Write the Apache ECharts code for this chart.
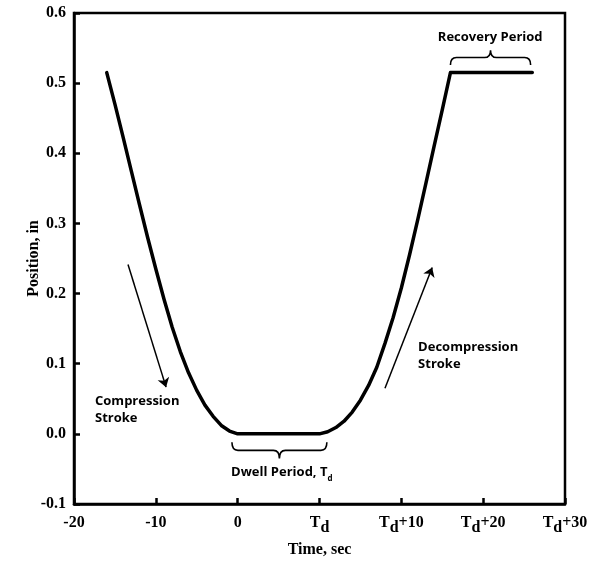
<!DOCTYPE html>
<html>
<head>
<meta charset="utf-8">
<script src="https://cdn.jsdelivr.net/npm/echarts@6/dist/echarts.min.js"></script>
<style>html,body{margin:0;padding:0;background:#fff}#chart{width:594px;height:563px}</style>
</head>
<body>
<div id="chart"></div>
<script>
// ---- data ----
const compressionTime = [-16,-15,-14,-13,-12,-11,-10,-9,-8,-7,-6,-5,-4,-3,-2,-1,0];
const compressionPos  = [0.515,0.470,0.423,0.375,0.327,0.280,0.235,0.192,0.152,0.117,0.087,0.062,0.041,0.025,0.012,0.004,0.000];
const dwellTime = [0,10];
const dwellPos  = [0,0];
const decompressionTime = [10,11,12,13,14,15,16,17,18,19,20,21,22,23,24,25,26];
const decompressionPos  = [0.000,0.003,0.009,0.018,0.031,0.048,0.069,0.095,0.129,0.166,0.208,0.255,0.305,0.357,0.410,0.462,0.515];
const recoveryTime = [26,36];
const recoveryPos  = [0.515,0.515];

const xTickValues = [-20,-10,0,10,20,30,40];
const xTickLabels = ['{t|-20}','{t|-10}','{t|0}','{t|T}{d|d}','{t|T}{d|d}{t|+10}','{t|T}{d|d}{t|+20}','{t|T}{d|d}{t|+30}'];

// annotation arrows: [x1,y1,x2,y2]
const arrows = [
  [-13.4,0.2415,-8.75,0.0666],
  [18.0,0.065,23.77,0.2373]
];
// braces: [xStart, xEnd, yEnds, yTip]
const braces = [
  [-0.7,10.9,-0.012,-0.035],
  [26.0,35.8,0.526,0.547]
];
// notes: x, y, text, align
const noteX = [30.86, -0.8, -17.43, 22.05];
const noteY = [0.562, -0.058, 0.031, 0.108];
const noteText = ['{a|Recovery Period}', '{a|Dwell Period, T}{s|d}', '{a|Compression}\n{a|Stroke}', '{a|Decompression}\n{a|Stroke}'];
const noteAlign = ['center','left','left','left'];

// ---- build ----
function pairs(xs, ys){ return xs.map((x,i)=>[x, ys[i]]); }
const curve = [].concat(
  pairs(compressionTime, compressionPos),
  pairs(dwellTime, dwellPos).slice(1),
  pairs(decompressionTime, decompressionPos).slice(1),
  pairs(recoveryTime, recoveryPos).slice(1)
);

const serif = '"Liberation Serif","Times New Roman",serif';
const sans = '"Open Sans","DejaVu Sans",sans-serif';
const chart = echarts.init(document.getElementById('chart'));

chart.setOption({
  animation: false,
  backgroundColor: '#fff',
  grid: { left: 74, right: 29, top: 13, bottom: 58, show: true, borderColor: '#000', borderWidth: 2.5, backgroundColor: 'transparent', z: 0 },
  xAxis: {
    type: 'value', min: -20, max: 40, interval: 10, z: 10,
    name: 'Time, sec', nameLocation: 'middle', nameGap: 38, nameMoveOverlap: false,
    nameTextStyle: { fontFamily: serif, fontWeight: 'bold', fontSize: 16, color: '#000' },
    axisLine: { show: true, onZero: false, lineStyle: { color: '#000', width: 2.5 } },
    axisTick: { show: true, inside: true, length: 6, lineStyle: { color: '#000', width: 2.5 } },
    splitLine: { show: false },
    axisLabel: {
      margin: 11, color: '#000', fontFamily: serif, fontWeight: 'bold', fontSize: 16,
      formatter: function(v){ const i = xTickValues.indexOf(v); return i >= 0 ? xTickLabels[i] : ''; },
      rich: {
        t: { fontFamily: serif, fontWeight: 'bold', fontSize: 16, color: '#000', verticalAlign: 'top' },
        d: { fontFamily: serif, fontWeight: 'bold', fontSize: 16, color: '#000', lineHeight: 26 }
      }
    }
  },
  yAxis: {
    type: 'value', min: -0.1, max: 0.6, interval: 0.1, z: 10,
    name: 'Position, in', nameLocation: 'middle', nameGap: 32, nameRotate: 90, nameMoveOverlap: false,
    nameTextStyle: { fontFamily: serif, fontWeight: 'bold', fontSize: 16, color: '#000' },
    axisLine: { show: true, onZero: false, lineStyle: { color: '#000', width: 2.5 } },
    axisTick: { show: true, inside: true, length: 6, lineStyle: { color: '#000', width: 2.5 } },
    splitLine: { show: false },
    axisLabel: { margin: 8, color: '#000', fontFamily: serif, fontWeight: 'bold', fontSize: 16,
      formatter: v => v.toFixed(1) }
  },
  series: [
    {
      type: 'line', data: curve, showSymbol: false, symbol: 'none',
      lineStyle: { color: '#000', width: 3.5, join: 'round', cap: 'round' },
      markLine: {
        silent: true, symbol: ['none','arrow'], symbolSize: 9, label: { show: false },
        lineStyle: { color: '#000', width: 1.5, type: 'solid' },
        data: arrows.map(a => [{ coord: [a[0], a[1]] }, { coord: [a[2], a[3]] }])
      },
      z: 3
    },
    {
      type: 'custom', silent: true,
      data: braces,
      renderItem: function(params, api){
        const x1 = api.value(0), x2 = api.value(1), yE = api.value(2), yT = api.value(3);
        const p1 = api.coord([x1, yE]), p2 = api.coord([x2, yE]), pt = api.coord([(x1+x2)/2, yT]);
        const ym = (p1[1] + pt[1]) / 2;
        const r = 6;
        const mx = pt[0];
        const d = 'M' + p1[0] + ' ' + p1[1] +
          ' Q' + p1[0] + ' ' + ym + ' ' + (p1[0]+r) + ' ' + ym +
          ' L' + (mx - r) + ' ' + ym +
          ' Q' + mx + ' ' + ym + ' ' + mx + ' ' + pt[1] +
          ' Q' + mx + ' ' + ym + ' ' + (mx + r) + ' ' + ym +
          ' L' + (p2[0]-r) + ' ' + ym +
          ' Q' + p2[0] + ' ' + ym + ' ' + p2[0] + ' ' + p2[1];
        return { type: 'path', shape: { pathData: d }, style: { fill: 'none', stroke: '#000', lineWidth: 1.6 } };
      },
      z: 4
    },
    {
      type: 'custom', silent: true,
      data: noteX.map((x,i)=>[x, noteY[i]]),
      renderItem: function(params, api){
        const i = params.dataIndex;
        const p = api.coord([api.value(0), api.value(1)]);
        return {
          type: 'text', x: p[0], y: p[1],
          style: {
            text: noteText[i], textAlign: noteAlign[i], textVerticalAlign: 'middle',
            font: 'bold 13px ' + sans, fill: '#000',
            rich: {
              a: { font: 'bold 13px ' + sans, fill: '#000', lineHeight: 17, verticalAlign: 'top' },
              s: { font: 'bold 8px ' + sans, fill: '#000', lineHeight: 10, verticalAlign: 'bottom' }
            }
          }
        };
      },
      z: 5
    }
  ]
});
</script>
</body>
</html>
